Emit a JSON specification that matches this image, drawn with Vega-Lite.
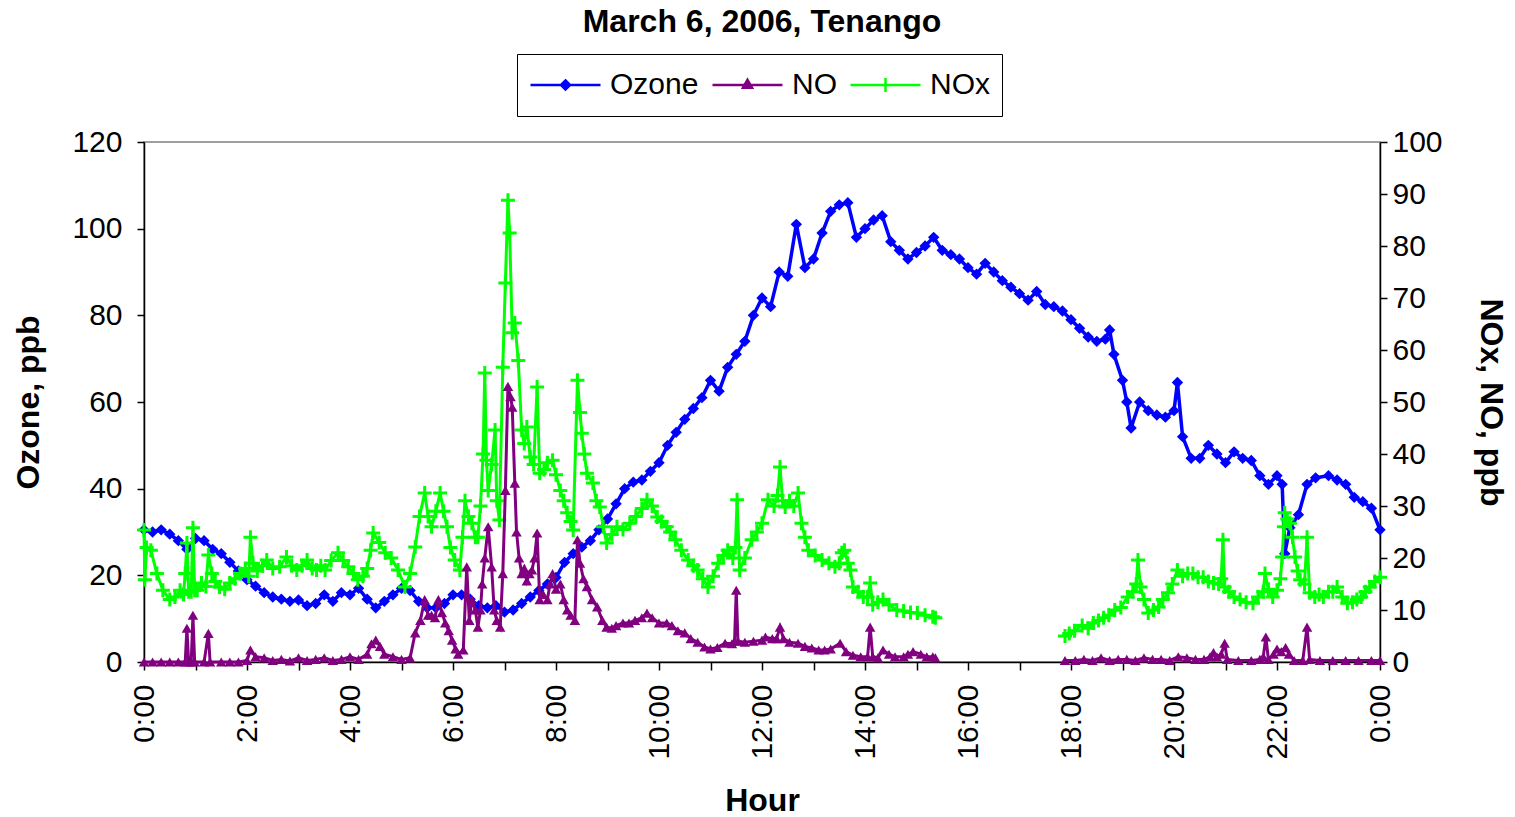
{
  "$schema": "https://vega.github.io/schema/vega-lite/v6.json",
  "width": 1236,
  "height": 520,
  "autosize": "none",
  "padding": {"left": 144, "top": 142, "right": 135, "bottom": 155},
  "background": "white",
  "title": {"text": "March 6, 2006, Tenango", "font": "Liberation Sans", "fontSize": 32, "fontWeight": "bold", "color": "black", "anchor": "middle", "offset": 15},
  "config": {
    "font": "Liberation Sans",
    "view": {"stroke": "#808080", "strokeWidth": 1.5},
    "axis": {"grid": false, "labelColor": "black", "labelFont": "Liberation Sans", "labelFontSize": 30, "titleFont": "Liberation Sans", "titleFontSize": 32, "titleFontWeight": "bold", "titleColor": "black", "domainColor": "black", "tickColor": "black", "domainWidth": 1.5, "tickWidth": 1.5}
  },
  "datasets": {
    "oz": [{"t":0,"v":30.5},{"t":10,"v":30},{"t":20,"v":30.5},{"t":30,"v":29.5},{"t":40,"v":28},{"t":50,"v":26},{"t":60,"v":28.5},{"t":70,"v":28},{"t":80,"v":26},{"t":90,"v":25},{"t":100,"v":23},{"t":110,"v":21},{"t":120,"v":19},{"t":130,"v":17.5},{"t":140,"v":16},{"t":150,"v":15},{"t":160,"v":14.5},{"t":170,"v":14},{"t":180,"v":14.3},{"t":190,"v":13},{"t":200,"v":13.5},{"t":210,"v":15.5},{"t":220,"v":14},{"t":230,"v":16},{"t":240,"v":15.5},{"t":250,"v":17},{"t":260,"v":14.5},{"t":270,"v":12.5},{"t":280,"v":14},{"t":290,"v":15.5},{"t":300,"v":17},{"t":310,"v":16.5},{"t":320,"v":14},{"t":330,"v":12.5},{"t":340,"v":12.5},{"t":350,"v":13.5},{"t":360,"v":15.5},{"t":370,"v":15.5},{"t":380,"v":14.5},{"t":390,"v":13},{"t":400,"v":12.5},{"t":410,"v":13},{"t":420,"v":11.5},{"t":430,"v":12},{"t":440,"v":13.5},{"t":450,"v":15},{"t":460,"v":16.5},{"t":470,"v":18},{"t":480,"v":19.5},{"t":490,"v":23},{"t":500,"v":25},{"t":510,"v":26.5},{"t":520,"v":28},{"t":530,"v":30.5},{"t":540,"v":33},{"t":550,"v":36.5},{"t":560,"v":40},{"t":570,"v":41.5},{"t":580,"v":42},{"t":590,"v":44},{"t":600,"v":46},{"t":610,"v":50},{"t":620,"v":53},{"t":630,"v":56},{"t":640,"v":58.5},{"t":650,"v":61},{"t":660,"v":65},{"t":670,"v":62.5},{"t":680,"v":68},{"t":690,"v":71},{"t":700,"v":74},{"t":710,"v":80},{"t":720,"v":84},{"t":730,"v":82},{"t":740,"v":90},{"t":750,"v":89},{"t":760,"v":101},{"t":770,"v":91},{"t":780,"v":93},{"t":790,"v":99},{"t":800,"v":104},{"t":810,"v":105.5},{"t":820,"v":106},{"t":830,"v":98},{"t":840,"v":100},{"t":850,"v":102},{"t":860,"v":103},{"t":870,"v":97},{"t":880,"v":95},{"t":890,"v":93},{"t":900,"v":94.5},{"t":910,"v":96},{"t":920,"v":98},{"t":930,"v":95},{"t":940,"v":94},{"t":950,"v":93},{"t":960,"v":91},{"t":970,"v":89.5},{"t":980,"v":92},{"t":990,"v":90},{"t":1000,"v":88},{"t":1010,"v":86.5},{"t":1020,"v":85},{"t":1030,"v":83.5},{"t":1040,"v":85.5},{"t":1050,"v":82.5},{"t":1060,"v":82},{"t":1070,"v":81},{"t":1080,"v":79},{"t":1090,"v":77},{"t":1100,"v":75},{"t":1110,"v":74},{"t":1120,"v":74.5},{"t":1125,"v":76.6},{"t":1130,"v":71},{"t":1140,"v":65},{"t":1145,"v":60},{"t":1150,"v":54},{"t":1160,"v":60},{"t":1170,"v":58},{"t":1180,"v":57},{"t":1190,"v":56.5},{"t":1200,"v":58},{"t":1204,"v":64.5},{"t":1210,"v":52},{"t":1220,"v":47},{"t":1230,"v":47},{"t":1240,"v":50},{"t":1250,"v":48},{"t":1260,"v":46},{"t":1270,"v":48.5},{"t":1280,"v":47},{"t":1290,"v":46.5},{"t":1300,"v":43},{"t":1310,"v":41},{"t":1320,"v":43},{"t":1326,"v":41},{"t":1329,"v":25},{"t":1335,"v":31},{"t":1345,"v":34},{"t":1355,"v":41},{"t":1365,"v":42.5},{"t":1380,"v":43},{"t":1390,"v":42},{"t":1400,"v":41},{"t":1410,"v":38},{"t":1420,"v":37},{"t":1430,"v":35.5},{"t":1440,"v":30.5}],
    "no": [{"t":0,"v":0},{"t":10,"v":0},{"t":20,"v":0},{"t":30,"v":0},{"t":40,"v":0},{"t":48,"v":0},{"t":50,"v":6.5},{"t":52,"v":0},{"t":55,"v":0},{"t":57,"v":9},{"t":59,"v":0},{"t":70,"v":0},{"t":75,"v":5.5},{"t":77,"v":0},{"t":90,"v":0},{"t":100,"v":0},{"t":110,"v":0},{"t":120,"v":0.3},{"t":124,"v":2.3},{"t":130,"v":1},{"t":140,"v":0.8},{"t":150,"v":0.3},{"t":160,"v":0.5},{"t":170,"v":0.2},{"t":180,"v":0.8},{"t":190,"v":0.3},{"t":200,"v":0.5},{"t":210,"v":0.8},{"t":220,"v":0.3},{"t":230,"v":0.5},{"t":240,"v":1},{"t":250,"v":0.5},{"t":260,"v":1.5},{"t":265,"v":3.5},{"t":270,"v":4.2},{"t":275,"v":3},{"t":280,"v":1.5},{"t":290,"v":1},{"t":300,"v":0.5},{"t":310,"v":0.8},{"t":316,"v":5.6},{"t":322,"v":8},{"t":327,"v":12},{"t":331,"v":9},{"t":335,"v":9},{"t":339,"v":8.5},{"t":343,"v":12},{"t":347,"v":9.5},{"t":351,"v":7.5},{"t":355,"v":6},{"t":359,"v":4.2},{"t":363,"v":2.5},{"t":366,"v":1.5},{"t":372,"v":2.3},{"t":376,"v":18.3},{"t":379,"v":8},{"t":382,"v":12},{"t":386,"v":10},{"t":389,"v":6.7},{"t":392,"v":10},{"t":394,"v":15},{"t":397,"v":20},{"t":401,"v":26},{"t":405,"v":18.3},{"t":408,"v":10},{"t":411,"v":8},{"t":415,"v":6.7},{"t":418,"v":17},{"t":421,"v":33},{"t":424,"v":53},{"t":427,"v":51},{"t":429,"v":49},{"t":432,"v":34.4},{"t":434,"v":25},{"t":437,"v":20},{"t":440,"v":17},{"t":443,"v":18},{"t":446,"v":15.6},{"t":449,"v":17},{"t":452,"v":17.7},{"t":455,"v":20},{"t":458,"v":24.8},{"t":461,"v":12},{"t":465,"v":13},{"t":470,"v":12},{"t":473,"v":15},{"t":476,"v":17},{"t":480,"v":14},{"t":485,"v":15},{"t":489,"v":12},{"t":493,"v":10},{"t":497,"v":9},{"t":502,"v":8},{"t":505,"v":23.5},{"t":508,"v":19},{"t":512,"v":16},{"t":516,"v":14.5},{"t":522,"v":12},{"t":528,"v":10.6},{"t":534,"v":8},{"t":539,"v":6.7},{"t":545,"v":6.5},{"t":550,"v":7},{"t":558,"v":7.5},{"t":565,"v":7.5},{"t":572,"v":8},{"t":580,"v":8.5},{"t":586,"v":9.4},{"t":592,"v":8.5},{"t":600,"v":7.5},{"t":609,"v":7.5},{"t":615,"v":7},{"t":622,"v":6},{"t":630,"v":5.6},{"t":637,"v":4.5},{"t":645,"v":3.8},{"t":653,"v":2.9},{"t":660,"v":2.5},{"t":668,"v":2.8},{"t":677,"v":3.6},{"t":685,"v":3.5},{"t":688,"v":4},{"t":690,"v":13.8},{"t":692,"v":4},{"t":700,"v":3.8},{"t":710,"v":4},{"t":720,"v":4.2},{"t":724,"v":4.8},{"t":732,"v":4.5},{"t":737,"v":4.5},{"t":741,"v":6.7},{"t":745,"v":4.5},{"t":752,"v":3.8},{"t":762,"v":3.6},{"t":770,"v":3},{"t":778,"v":2.7},{"t":786,"v":2.3},{"t":793,"v":2.3},{"t":800,"v":2.5},{"t":811,"v":3.6},{"t":818,"v":2},{"t":826,"v":1.3},{"t":835,"v":1},{"t":843,"v":1},{"t":846,"v":6.7},{"t":849,"v":1},{"t":855,"v":0.8},{"t":861,"v":2.3},{"t":868,"v":1.5},{"t":875,"v":1},{"t":885,"v":1},{"t":890,"v":1.5},{"t":896,"v":2},{"t":905,"v":1.5},{"t":912,"v":1},{"t":919,"v":1},{"t":922,"v":0.8},{"t":1000,"v":null},{"t":1073,"v":0.3},{"t":1085,"v":0.3},{"t":1095,"v":0.5},{"t":1105,"v":0.3},{"t":1115,"v":0.8},{"t":1125,"v":0.3},{"t":1135,"v":0.5},{"t":1145,"v":0.5},{"t":1155,"v":0.3},{"t":1165,"v":0.8},{"t":1175,"v":0.5},{"t":1185,"v":0.5},{"t":1195,"v":0.3},{"t":1205,"v":1},{"t":1215,"v":0.8},{"t":1225,"v":0.5},{"t":1235,"v":0.5},{"t":1242,"v":1},{"t":1246,"v":1.8},{"t":1250,"v":1},{"t":1255,"v":1.5},{"t":1259,"v":3.6},{"t":1262,"v":0.5},{"t":1275,"v":0.3},{"t":1290,"v":0.3},{"t":1300,"v":0.5},{"t":1304,"v":1},{"t":1307,"v":4.8},{"t":1310,"v":0.5},{"t":1316,"v":1.5},{"t":1320,"v":2.5},{"t":1325,"v":2},{"t":1330,"v":2.8},{"t":1334,"v":1.5},{"t":1340,"v":0.3},{"t":1350,"v":0.3},{"t":1355,"v":6.7},{"t":1358,"v":0.5},{"t":1370,"v":0.3},{"t":1385,"v":0.3},{"t":1400,"v":0.3},{"t":1415,"v":0.3},{"t":1430,"v":0.3},{"t":1440,"v":0.3}],
    "nx": [{"t":0,"v":25.4},{"t":1,"v":15.8},{"t":3,"v":22},{"t":8,"v":21.5},{"t":15,"v":17},{"t":22,"v":13.8},{"t":30,"v":12},{"t":36,"v":12.5},{"t":42,"v":13.8},{"t":46,"v":13},{"t":48,"v":17},{"t":50,"v":22.9},{"t":52,"v":13.5},{"t":55,"v":13.5},{"t":57,"v":25.8},{"t":59,"v":13.8},{"t":62,"v":13.8},{"t":67,"v":15.2},{"t":72,"v":14.5},{"t":75,"v":20.6},{"t":79,"v":17},{"t":83,"v":15.5},{"t":88,"v":14.4},{"t":94,"v":14},{"t":100,"v":15.2},{"t":106,"v":16},{"t":112,"v":17},{"t":118,"v":18},{"t":122,"v":16.5},{"t":124,"v":24},{"t":127,"v":19},{"t":132,"v":17.5},{"t":138,"v":18.5},{"t":143,"v":19.6},{"t":150,"v":18},{"t":158,"v":18.3},{"t":166,"v":20.2},{"t":172,"v":18.5},{"t":178,"v":17.7},{"t":184,"v":18.5},{"t":190,"v":19.6},{"t":196,"v":18},{"t":201,"v":17.7},{"t":206,"v":18.5},{"t":211,"v":17.7},{"t":218,"v":19.5},{"t":226,"v":21},{"t":232,"v":19.5},{"t":238,"v":18.3},{"t":244,"v":17},{"t":249,"v":15.8},{"t":255,"v":16.5},{"t":260,"v":18},{"t":264,"v":21.5},{"t":267,"v":24.8},{"t":274,"v":23},{"t":281,"v":21},{"t":288,"v":20},{"t":296,"v":17.7},{"t":304,"v":14.4},{"t":310,"v":17},{"t":316,"v":22.1},{"t":321,"v":28},{"t":327,"v":32.5},{"t":331,"v":28},{"t":335,"v":26},{"t":340,"v":29},{"t":345,"v":32.5},{"t":349,"v":29},{"t":353,"v":26},{"t":357,"v":22},{"t":362,"v":19.6},{"t":368,"v":17.7},{"t":371,"v":24},{"t":374,"v":31},{"t":378,"v":28},{"t":382,"v":26.7},{"t":386,"v":24},{"t":389,"v":24},{"t":392,"v":30},{"t":395,"v":40},{"t":397,"v":55.6},{"t":399,"v":38.8},{"t":401,"v":33},{"t":405,"v":38},{"t":409,"v":44.6},{"t":411,"v":31},{"t":414,"v":27.3},{"t":418,"v":56.7},{"t":421,"v":72.9},{"t":424,"v":88.8},{"t":426,"v":82.5},{"t":429,"v":63.3},{"t":432,"v":65.2},{"t":436,"v":58},{"t":440,"v":44.6},{"t":443,"v":42},{"t":446,"v":45.2},{"t":450,"v":39.4},{"t":454,"v":38},{"t":458,"v":52.9},{"t":461,"v":36.3},{"t":466,"v":37},{"t":470,"v":38.3},{"t":476,"v":38.8},{"t":480,"v":36},{"t":485,"v":33},{"t":489,"v":31},{"t":493,"v":28.7},{"t":497,"v":27},{"t":500,"v":25.4},{"t":505,"v":54.2},{"t":508,"v":48},{"t":510,"v":44},{"t":513,"v":40},{"t":516,"v":36.3},{"t":523,"v":34.4},{"t":527,"v":31},{"t":531,"v":29.8},{"t":535,"v":26},{"t":539,"v":22.9},{"t":545,"v":24.5},{"t":551,"v":26},{"t":558,"v":25.5},{"t":566,"v":26.7},{"t":573,"v":28},{"t":580,"v":29.5},{"t":586,"v":31.2},{"t":592,"v":30},{"t":598,"v":27.9},{"t":603,"v":27},{"t":609,"v":26},{"t":613,"v":25},{"t":619,"v":23.5},{"t":626,"v":21.5},{"t":634,"v":19.6},{"t":640,"v":18.5},{"t":645,"v":17.7},{"t":651,"v":16},{"t":657,"v":14.4},{"t":663,"v":16.5},{"t":669,"v":19},{"t":675,"v":20.5},{"t":680,"v":21.5},{"t":686,"v":20},{"t":689,"v":22},{"t":691,"v":31.2},{"t":694,"v":17.7},{"t":700,"v":20},{"t":708,"v":23.5},{"t":714,"v":25},{"t":720,"v":26.7},{"t":727,"v":31.2},{"t":734,"v":30},{"t":738,"v":32},{"t":741,"v":37.5},{"t":744,"v":31},{"t":747,"v":29.8},{"t":752,"v":31},{"t":757,"v":30},{"t":762,"v":32.5},{"t":766,"v":26.7},{"t":770,"v":24},{"t":774,"v":21.5},{"t":782,"v":20.5},{"t":790,"v":19.6},{"t":798,"v":19},{"t":805,"v":18.3},{"t":810,"v":19},{"t":813,"v":21},{"t":816,"v":21.5},{"t":820,"v":19},{"t":823,"v":17.7},{"t":826,"v":14.4},{"t":832,"v":13.5},{"t":838,"v":12.5},{"t":843,"v":12.5},{"t":846,"v":15.2},{"t":849,"v":11},{"t":855,"v":11.5},{"t":861,"v":12},{"t":868,"v":11},{"t":877,"v":10},{"t":885,"v":9.8},{"t":893,"v":9.5},{"t":901,"v":9.4},{"t":910,"v":9},{"t":919,"v":8.7},{"t":922,"v":8.5},{"t":1000,"v":null},{"t":1073,"v":5},{"t":1078,"v":5.5},{"t":1084,"v":6},{"t":1093,"v":7},{"t":1100,"v":6.5},{"t":1106,"v":7.5},{"t":1112,"v":8},{"t":1118,"v":8.5},{"t":1124,"v":9},{"t":1131,"v":10},{"t":1138,"v":10.5},{"t":1146,"v":12.5},{"t":1152,"v":13.5},{"t":1156,"v":15},{"t":1158,"v":19.6},{"t":1161,"v":14.4},{"t":1165,"v":12},{"t":1170,"v":9.4},{"t":1176,"v":10},{"t":1182,"v":10.6},{"t":1187,"v":12},{"t":1193,"v":13.3},{"t":1198,"v":15},{"t":1204,"v":17.7},{"t":1210,"v":16.5},{"t":1216,"v":17},{"t":1222,"v":17},{"t":1228,"v":16.3},{"t":1234,"v":16.3},{"t":1240,"v":15.5},{"t":1246,"v":15.2},{"t":1252,"v":15},{"t":1255,"v":16},{"t":1257,"v":23.5},{"t":1259,"v":14.4},{"t":1264,"v":13.5},{"t":1270,"v":12.5},{"t":1277,"v":12},{"t":1284,"v":11.5},{"t":1292,"v":11.3},{"t":1298,"v":12.5},{"t":1304,"v":13.5},{"t":1306,"v":17},{"t":1310,"v":14},{"t":1315,"v":12.5},{"t":1320,"v":13.8},{"t":1324,"v":16},{"t":1326,"v":20.2},{"t":1328,"v":26},{"t":1329,"v":28.7},{"t":1332,"v":27.5},{"t":1335,"v":26.7},{"t":1338,"v":24},{"t":1341,"v":20.2},{"t":1344,"v":17.5},{"t":1347,"v":15.8},{"t":1352,"v":15},{"t":1355,"v":24},{"t":1358,"v":13.3},{"t":1364,"v":12.5},{"t":1369,"v":13},{"t":1374,"v":12.5},{"t":1380,"v":13.5},{"t":1385,"v":13.5},{"t":1390,"v":14.4},{"t":1396,"v":12.5},{"t":1402,"v":11.3},{"t":1408,"v":11.5},{"t":1413,"v":12},{"t":1418,"v":12.5},{"t":1423,"v":13.5},{"t":1428,"v":14.4},{"t":1434,"v":15.5},{"t":1440,"v":16.3}]
  },
  "encoding": {
    "x": {"field": "t", "type": "quantitative", "scale": {"domain": [0, 1440], "nice": false, "zero": false},
      "axis": {"values": [0,60,120,180,240,300,360,420,480,540,600,660,720,780,840,900,960,1020,1080,1140,1200,1260,1320,1380,1440], "labelExpr": "datum.value % 120 === 0 ? (floor(datum.value / 60) % 24) + ':00' : ''", "labelAngle": -90, "labelAlign": "right", "labelBaseline": "middle", "labelOverlap": false, "labelFlush": false, "labelBound": false, "tickSize": 8, "labelPadding": 14, "title": "Hour", "titlePadding": 26}}
  },
  "layer": [
    {
      "encoding": {"y": {"field": "v", "type": "quantitative", "scale": {"domain": [0, 120], "nice": false}, "axis": {"orient": "left", "values": [0,20,40,60,80,100,120], "tickSize": 7, "labelPadding": 15, "title": "Ozone, ppb", "titlePadding": 26}}},
      "layer": [
        {"data": {"name": "oz"}, "mark": {"type": "line", "strokeWidth": 3.5},
          "encoding": {"color": {"datum": "Ozone", "scale": {"domain": ["Ozone", "NO", "NOx"], "range": ["#0000FF", "#800080", "#00FF00"]},
            "legend": {"orient": "none", "legendX": 373, "legendY": -88, "direction": "horizontal", "title": null, "strokeColor": "black", "fillColor": "white", "padding": 12, "clipHeight": 38, "labelFont": "Liberation Sans", "labelFontSize": 30, "labelColor": "black", "symbolSize": 4900, "symbolStrokeWidth": 2.5, "labelOffset": 8, "columnPadding": 12,
              "encode": {"symbols": {"update": {"shape": {"signal": "datum.value === 'Ozone' ? 'M-1,0H1M0,-0.13L0.13,0L0,0.13L-0.13,0Z' : datum.value === 'NO' ? 'M-1,0H1M0,-0.15L0.13,0.08L-0.13,0.08Z' : 'M-1,0H1M0,-0.2V0.2'"}, "fill": {"scale": "color", "field": "value"}, "stroke": {"scale": "color", "field": "value"}}}}}}}},
        {"data": {"name": "oz"}, "mark": {"type": "point", "shape": "diamond", "filled": true, "size": 130, "color": "#0000FF", "opacity": 1}}
      ]
    },
    {
      "encoding": {"y": {"field": "v", "type": "quantitative", "scale": {"domain": [0, 100], "nice": false}, "axis": {"orient": "right", "values": [0,10,20,30,40,50,60,70,80,90,100], "tickSize": 7, "labelPadding": 5, "title": "NOx, NO, ppb", "titlePadding": 31}}},
      "layer": [
        {"data": {"name": "nx"}, "mark": {"type": "line", "strokeWidth": 3}, "encoding": {"color": {"datum": "NOx"}}},
        {"data": {"name": "nx"}, "mark": {"type": "point", "shape": "M-1,0H1M0,-1V1", "filled": false, "size": 196, "strokeWidth": 3, "color": "#00FF00", "opacity": 1}},
        {"data": {"name": "no"}, "mark": {"type": "line", "strokeWidth": 3}, "encoding": {"color": {"datum": "NO"}}},
        {"data": {"name": "no"}, "mark": {"type": "point", "shape": "triangle-up", "filled": true, "size": 110, "color": "#800080", "opacity": 1}}
      ]
    }
  ],
  "resolve": {"scale": {"y": "independent"}}
}
